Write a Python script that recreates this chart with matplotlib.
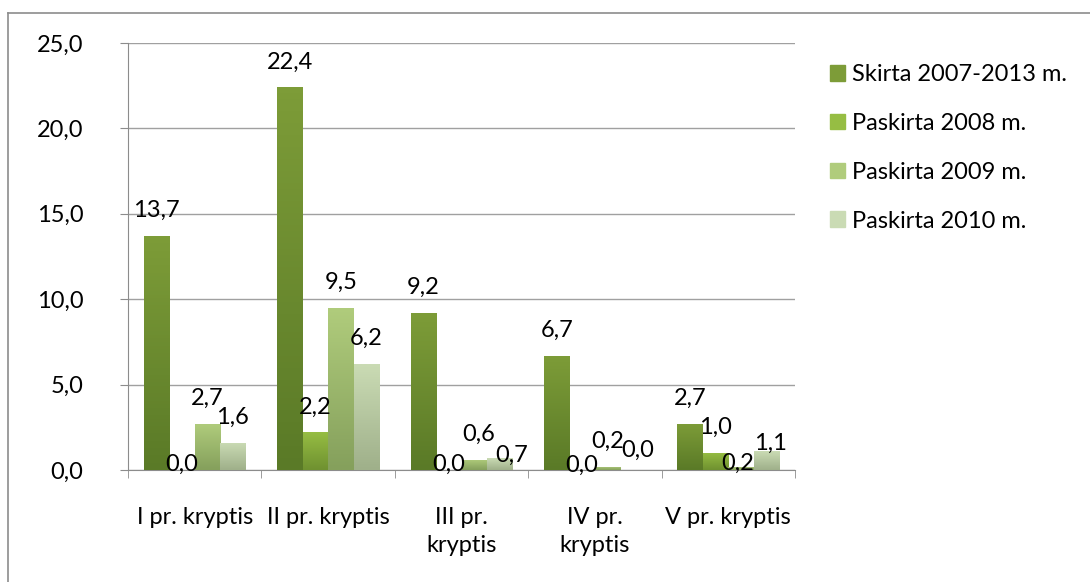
import numpy as np
import matplotlib
matplotlib.use("Agg")
import matplotlib.pyplot as plt
from matplotlib.colors import LinearSegmentedColormap
from matplotlib.patches import Rectangle
from matplotlib.lines import Line2D

plt.rcParams["font.family"] = ["Lato", "DejaVu Sans"]

categories = ["I pr. kryptis", "II pr. kryptis", "III pr.\nkryptis", "IV pr.\nkryptis", "V pr. kryptis"]
series_names = ["Skirta 2007-2013 m.", "Paskirta 2008 m.", "Paskirta 2009 m.", "Paskirta 2010 m."]
skirta = [13.7, 22.4, 9.2, 6.7, 2.7]
paskirta_2008 = [0.0, 2.2, 0.0, 0.0, 1.0]
paskirta_2009 = [2.7, 9.5, 0.6, 0.2, 0.2]
paskirta_2010 = [1.6, 6.2, 0.7, 0.0, 1.1]
series = [skirta, paskirta_2008, paskirta_2009, paskirta_2010]

# (top colour, bottom colour) of the vertical gradient per series
grad = [("#7d9c38", "#5a7a27"), ("#96bd43", "#6f9130"),
        ("#b0cc7c", "#85a05c"), ("#cadbb4", "#9fb08a")]

FS = 17
PX = 0.72  # points per pixel at dpi 100

# label nudges (dx, dy in px, +dy = down) where the original labels got pushed around
# default: baseline sits 19 px above the bar top
nudge = {
    (1, 0): (0, 20), (1, 2): (0, 20), (1, 3): (0, 21),
    (2, 2): (4, 0), (3, 2): (12, 23),
    (3, 3): (5, 6),
    (2, 4): (-3, 22), (3, 4): (4, 18),
}


def fmt(v):
    return f"{v:.1f}".replace(".", ",")


fig = plt.figure(figsize=(10.9, 5.82), dpi=100)
ax = fig.add_axes([128 / 1090, 1 - 470 / 582, 667 / 1090, 427 / 582])

x = np.arange(len(categories))
w = 0.191
for i, vals in enumerate(series):
    off = (i - 1.5) * w
    bars = ax.bar(x + off, vals, w, color=grad[i][0], label=series_names[i], zorder=3)
    cmap = LinearSegmentedColormap.from_list(f"g{i}", [grad[i][1], grad[i][0]])
    for j, (b, v) in enumerate(zip(bars, vals)):
        if v > 0:
            x0, x1 = b.get_x(), b.get_x() + b.get_width()
            im = ax.imshow(np.linspace(0, 1, 64).reshape(-1, 1), cmap=cmap, origin="lower",
                           extent=[x0, x1, 0, v], aspect="auto", zorder=3.5)
            im.set_clip_path(b)
        dx, dy = nudge.get((i, j), (0, 0))
        ax.annotate(fmt(v), (b.get_x() + b.get_width() / 2, v),
                    xytext=(dx * PX, (19 - dy) * PX),
                    textcoords="offset points", ha="center", va="baseline",
                    fontsize=FS, zorder=5)

ax.set_xlim(-0.5, len(categories) - 0.5)
ax.set_ylim(0, 25)
ax.set_yticks(np.arange(0, 26, 5))
ax.set_yticklabels([fmt(t) for t in np.arange(0, 26, 5)], fontsize=FS)
ax.set_xticks(x)
ax.set_xticklabels(categories, fontsize=FS, linespacing=1.4)
ax.set_xticks(np.arange(-0.5, len(categories)), minor=True)
ax.tick_params(axis="x", which="major", length=0, pad=27)
ax.tick_params(axis="x", which="minor", length=6, color="#8c8c8c", direction="out")
ax.tick_params(axis="y", length=6, color="#8c8c8c", pad=26)
ax.grid(axis="y", color="#a0a0a0", linewidth=1, zorder=0)
for s in ["top", "right"]:
    ax.spines[s].set_visible(False)
for s in ["left", "bottom"]:
    ax.spines[s].set_color("#8c8c8c")

handles = [Rectangle((0, 0), 1, 1, color=grad[i][0]) for i in range(4)]
fig.legend(handles, series_names, loc="upper left", bbox_to_anchor=(830 / 1090, 1 - 64 / 582),
           frameon=False, fontsize=FS, handlelength=0.64, handleheight=0.64,
           handletextpad=0.3, labelspacing=1.18, borderpad=0, borderaxespad=0)

# outer chart frame (only top and left edges fall inside the picture)
fig.add_artist(Line2D([8 / 1090, 1], [1 - 13 / 582] * 2, transform=fig.transFigure,
                      color="#8c8c8c", linewidth=1.2))
fig.add_artist(Line2D([8 / 1090] * 2, [0, 1 - 13 / 582], transform=fig.transFigure,
                      color="#8c8c8c", linewidth=1.2))

fig.savefig("out.png", dpi=100)
